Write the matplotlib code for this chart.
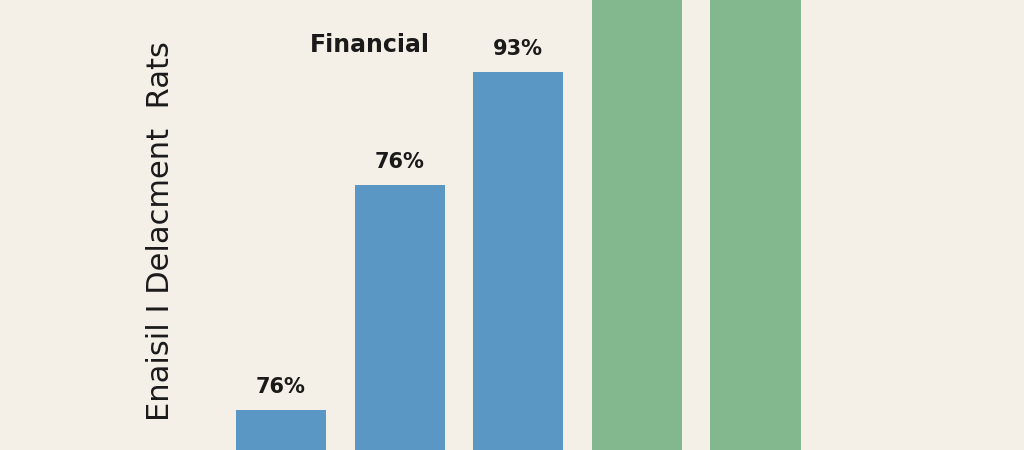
import matplotlib
matplotlib.use('Agg')
import matplotlib.pyplot as plt
import numpy as np

# bar heights (0-100 scale of the visible area), labels and colours
heights = [9, 59, 84, 110, 110]
labels = ['76%', '76%', '93%', '', '']
colors = ['#5A97C5', '#5A97C5', '#5A97C5', '#83B78D', '#83B78D']
ylabel = 'Enaisil I Delacment  Rats'
title = 'Financial'

bg = '#F4F0E7'
fig = plt.figure(figsize=(10.24, 4.5), dpi=100, facecolor=bg)
ax = fig.add_axes([0, 0, 1, 1])
ax.set_facecolor(bg)

x = np.arange(len(heights))
bars = ax.bar(x, heights, width=0.76, color=colors)

for b, lab in zip(bars, labels):
    if lab:
        ax.annotate(lab, (b.get_x() + b.get_width() / 2, b.get_height()),
                    xytext=(0, 12), textcoords='offset points',
                    ha='center', va='baseline', fontsize=15,
                    fontweight='bold', color='#1a1a1a')

ax.text(0.361, 0.884, title, transform=ax.transAxes, ha='center',
        va='baseline', fontsize=17, fontweight='bold', color='#1a1a1a')
ax.text(0.157, 0.486, ylabel, transform=ax.transAxes, rotation=90,
        ha='center', va='center', fontsize=22, color='#1a1a1a')

ax.set_xlim(-2.369, 6.264)
ax.set_ylim(0, 100)
for s in ax.spines.values():
    s.set_visible(False)
ax.set_xticks([])
ax.set_yticks([])

plt.savefig('out.png', dpi=100, facecolor=bg)
